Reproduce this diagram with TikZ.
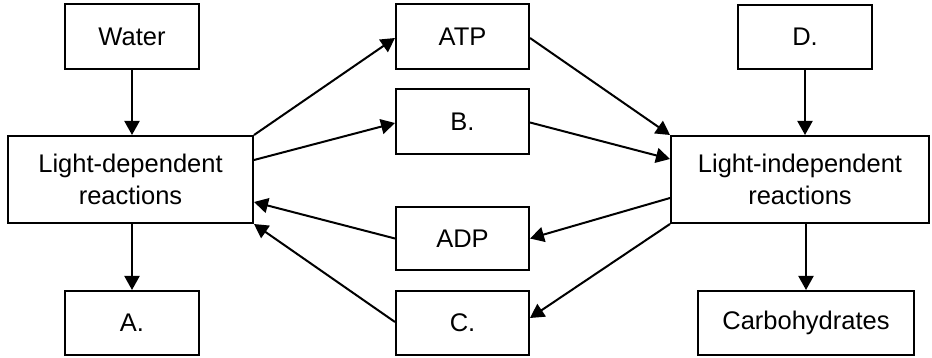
\documentclass[tikz,border=0pt]{standalone}
\usepackage{fontspec}
\setmainfont{Liberation Sans}
\usetikzlibrary{arrows.meta}
\tikzset{
  box/.style={draw, line width=2pt, rectangle, inner sep=0pt, align=center,
    font=\fontsize{25.5pt}{32pt}\selectfont},
  arr/.style={line width=2pt, -{Triangle[length=14pt,width=15pt]}}
}
\begin{document}
\begin{tikzpicture}[x=1pt,y=-1pt]
\useasboundingbox (0,0) rectangle (932,358);
\node[box, minimum width=134pt, minimum height=65pt] (water) at (132,36.5) {Water};
\node[box, minimum width=245pt, minimum height=87pt] (ld) at (130.5,179.5) {Light-dependent\\reactions};
\node[box, minimum width=134pt, minimum height=64pt] (a) at (132,323) {A.};
\node[box, minimum width=133pt, minimum height=65pt] (atp) at (462.5,36.5) {ATP};
\node[box, minimum width=133pt, minimum height=65pt] (b) at (462.5,121.5) {B.};
\node[box, minimum width=133pt, minimum height=63pt] (adp) at (462.5,238.5) {ADP};
\node[box, minimum width=133pt, minimum height=64pt] (c) at (462.5,323) {C.};
\node[box, minimum width=134pt, minimum height=64pt] (d) at (805,37) {D.};
\node[box, minimum width=258pt, minimum height=87pt] (li) at (800,179.5) {Light-independent\\reactions};
\node[box, minimum width=216pt, minimum height=64pt] (carb) at (806,323) {Carbohydrates};

\draw[arr] (water.south) -- (water.south |- ld.north);
\draw[arr] (a.north |- ld.south) -- (a.north);
\draw[arr] (d.south) -- (d.south |- li.north);
\draw[arr] (carb.north |- li.south) -- (carb.north);

\draw[arr] (ld.north east) -- ([yshift=-1.5pt]atp.west);
\draw[arr] ([yshift=-25pt]ld.north east) -- ([yshift=-1.5pt]b.west);
\draw[arr] ([yshift=-1.5pt]atp.east) -- (li.north west);
\draw[arr] ([yshift=-1pt]b.east) -- ([yshift=-24pt]li.north west);
\draw[arr] ([yshift=-63pt]li.north west) -- (adp.east);
\draw[arr] (li.south west) -- ([yshift=5pt]c.east);
\draw[arr] (adp.west) -- ([yshift=22pt]ld.south east);
\draw[arr] ([yshift=1pt]c.west) -- (ld.south east);
\end{tikzpicture}
\end{document}
